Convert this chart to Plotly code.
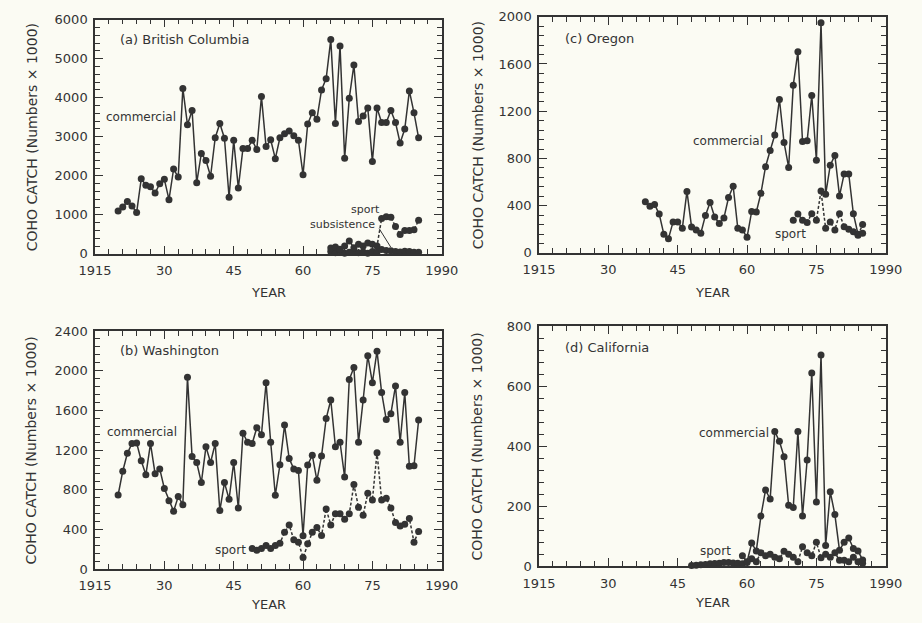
import plotly.graph_objects as go

# ---------------- data ----------------
bc_years = list(range(1920, 1986))
bc_commercial = [1100, 1200, 1340, 1225, 1060, 1925, 1760, 1720, 1560, 1800,
                 1910, 1390, 2175, 1970, 4240, 3310, 3675, 1825, 2575, 2390,
                 1990, 2975, 3340, 2965, 1450, 2910, 1690, 2700, 2700, 2910,
                 2675, 4030, 2750, 2925, 2440, 2975, 3075, 3150, 3030, 2910,
                 2030, 3325, 3615, 3450, 4200, 4490, 5490, 3340, 5325, 2450,
                 3990, 4840, 3390, 3530, 3740, 2370, 3740, 3365, 3365, 3675,
                 3365, 2840, 3200, 4175, 3615, 2975]
bc_sport_years = list(range(1966, 1986))
bc_sport = [150, 180, 120, 200, 330, 160, 250, 200, 280, 250,
            200, 910, 950, 940, 700, 500, 600, 600, 620, 860]
bc_subsistence = [60, 30, 80, 20, 40, 70, 30, 50, 20, 60,
                  40, 110, 90, 80, 60, 50, 70, 60, 40, 40]

wa_years = list(range(1920, 1986))
wa_commercial = [747, 987, 1167, 1266, 1272, 1092, 951, 1266, 961, 1010,
                 813, 689, 584, 731, 649, 1935, 1134, 1075, 872, 1233,
                 1075, 1266, 590, 872, 705, 1075, 616, 1370, 1279, 1266,
                 1425, 1354, 1879, 1279, 745, 1052, 1452, 1115, 1010, 993,
                 337, 1049, 1148, 895, 1141, 1518, 1705, 1233, 1279, 928,
                 1911, 2033, 1279, 1705, 2151, 1879, 2197, 1780, 1508, 1567,
                 1846, 1279, 1780, 1036, 1043, 1502]
wa_sport_years = list(range(1949, 1986))
wa_sport = [207, 190, 207, 239, 207, 239, 262, 371, 446, 295,
            272, 118, 256, 371, 420, 338, 607, 446, 557, 557,
            502, 557, 852, 623, 544, 764, 698, 1174, 698, 715,
            616, 469, 436, 452, 511, 272, 380]

or_years = list(range(1938, 1986))
or_commercial = [434, 395, 411, 329, 159, 121, 263, 263, 208, 521,
                 220, 195, 167, 318, 428, 304, 249, 296, 469, 565,
                 208, 195, 132, 351, 346, 505, 730, 867, 998, 1300,
                 936, 724, 1421, 1704, 944, 949, 1333, 784, 1950, 496,
                 743, 826, 483, 669, 669, 332, 159, 167]
or_sport_years = list(range(1970, 1986))
or_sport = [277, 330, 277, 258, 332, 277, 524, 208, 263, 195,
            332, 222, 200, 180, 150, 240]

ca_years = list(range(1959, 1986))
ca_commercial = [35, 15, 77, 51, 167, 254, 224, 449, 416, 365,
                 203, 196, 449, 167, 354, 644, 214, 704, 69, 248,
                 172, 53, 80, 94, 59, 51, 21]
ca_sport_years = list(range(1948, 1986))
ca_sport = [2, 3, 5, 6, 8, 9, 10, 12, 12, 11,
            10, 8, 12, 25, 15, 45, 35, 40, 30, 25,
            50, 40, 30, 15, 65, 45, 35, 80, 28, 40,
            30, 45, 20, 20, 15, 30, 15, 10]

year_ticks = [1915, 1930, 1945, 1960, 1975, 1990]
year_labels = ["1915", "30", "45", "60", "75", "1990"]

# ---------------- style ----------------
W, H = 922, 623
INK = "#333333"
BG = "#fbfbf3"
FONT = "DejaVu Sans"

fig = go.Figure()


def add_series(xs, ys, ax, dash="solid"):
    fig.add_trace(go.Scatter(
        x=xs, y=ys, mode="lines+markers",
        xaxis="x" + ax, yaxis="y" + ax,
        line=dict(color=INK, width=1.5, dash=dash),
        marker=dict(color=INK, size=7),
        cliponaxis=False, showlegend=False, hoverinfo="skip"))


add_series(bc_sport_years, bc_subsistence, "", "3px,2px")
add_series(bc_sport_years, bc_sport, "", "3px,2px")
add_series(bc_years, bc_commercial, "")
add_series(wa_sport_years, wa_sport, "2", "3px,2px")
add_series(wa_years, wa_commercial, "2")
add_series(or_sport_years, or_sport, "3", "3px,2px")
add_series(or_years, or_commercial, "3")
add_series(ca_sport_years, ca_sport, "4", "3px,2px")
add_series(ca_years, ca_commercial, "4")


def px_dom(a, b, total, flip=False):
    if flip:
        return [1 - b / total, 1 - a / total]
    return [a / total, b / total]


def xax(dom, anchor):
    return dict(domain=dom, anchor=anchor, range=[1915, 1990],
                tickmode="array", tickvals=year_ticks, ticktext=year_labels,
                ticks="inside", ticklen=8, tickwidth=1.3, tickcolor=INK,
                showline=True, linecolor=INK, linewidth=1.5, mirror="ticks",
                showgrid=False, zeroline=False, ticklabelstandoff=4,
                minor=dict(tick0=1915, dtick=3, ticks="inside", ticklen=5,
                           tickwidth=1, tickcolor=INK, showgrid=False),
                tickfont=dict(family=FONT, size=13, color=INK), fixedrange=True)


def yax(dom, anchor, top, major, minor):
    return dict(domain=dom, anchor=anchor, range=[0, top],
                tick0=0, dtick=major,
                ticks="inside", ticklen=8, tickwidth=1.3, tickcolor=INK,
                showline=True, linecolor=INK, linewidth=1.5, mirror="ticks",
                showgrid=False, zeroline=False, ticklabelstandoff=3,
                minor=dict(tick0=0, dtick=minor, ticks="inside", ticklen=5,
                           tickwidth=1, tickcolor=INK, showgrid=False),
                tickfont=dict(family=FONT, size=13, color=INK), fixedrange=True)


xa = px_dom(81, 441, W)
xc = px_dom(542, 902, W)
ya = px_dom(13, 253, H, True)
yb = px_dom(332, 576, H, True)
yc = px_dom(10, 252, H, True)
yd = px_dom(327, 573, H, True)

fig.update_layout(
    width=W, height=H, margin=dict(l=0, r=0, t=0, b=0),
    paper_bgcolor=BG, plot_bgcolor=BG,
    font=dict(family=FONT, color=INK, size=12),
    xaxis=xax(xa, "y"), yaxis=yax(ya, "x", 6000, 1000, 200),
    xaxis2=xax(xa, "y2"), yaxis2=yax(yb, "x2", 2400, 400, 80),
    xaxis3=xax(xc, "y3"), yaxis3=yax(yc, "x3", 2000, 400, 80),
    xaxis4=xax(xc, "y4"), yaxis4=yax(yd, "x4", 800, 200, 40),
)


def label(text, x, y, size=12, xanchor="left", angle=0):
    fig.add_annotation(text=text, x=x / W, y=1 - y / H, xref="paper", yref="paper",
                       xanchor=xanchor, yanchor="middle", showarrow=False,
                       textangle=angle, font=dict(family=FONT, size=size, color=INK))


# panel titles
label("(a) British Columbia", 105, 33, 13)
label("(b) Washington", 105, 352, 13)
label("(c) Oregon", 567, 32, 13)
label("(d) California", 567, 349, 13)

# series labels
label("commercial", 90, 113)
label("sport", 345, 207, 11)
label("subsistence", 302, 223, 11)
label("commercial", 91, 435)
label("sport", 203, 556)
label("commercial", 700, 137)
label("sport", 785, 233)
label("commercial", 706, 436)
label("sport", 707, 557)

fig.add_shape(type="line", xref="paper", yref="paper",
              x0=376 / W, y0=1 - 227 / H, x1=388 / W, y1=1 - 246 / H,
              line=dict(color=INK, width=1))

# axis titles
ytitle = "COHO CATCH (Numbers × 1000)"
label(ytitle, 15, 133, 14, "center", -90)
label(ytitle, 15, 454, 14, "center", -90)
label(ytitle, 478, 131, 14, "center", -90)
label(ytitle, 478, 450, 14, "center", -90)
label("YEAR", 261, 293, 13, "center")
label("YEAR", 261, 612, 13, "center")
label("YEAR", 722, 293, 13, "center")
label("YEAR", 722, 610, 13, "center")

fig.write_html("out.html")
